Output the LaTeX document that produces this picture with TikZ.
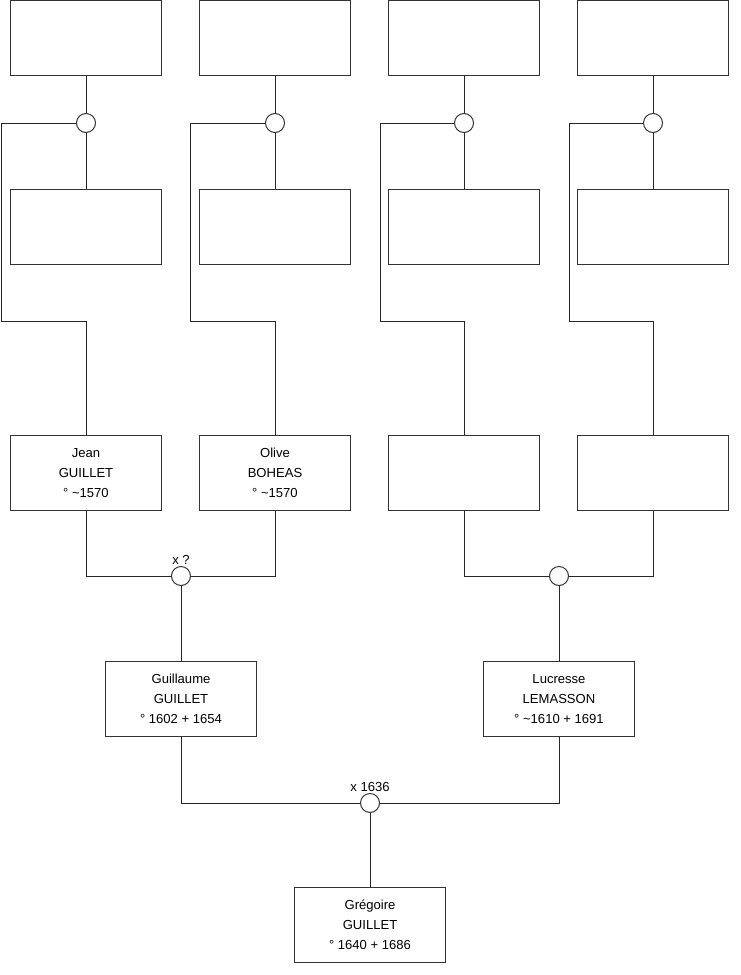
\documentclass[tikz,border=0pt]{standalone}
\usepackage{fontspec}
\setmainfont{Liberation Sans}
\usetikzlibrary{positioning}

\begin{document}
\begin{tikzpicture}[x=0.75pt,y=-0.75pt,
    person/.style={draw=black!80, line width=0.75pt, rectangle, minimum width=113.25pt, minimum height=56.25pt,
      inner sep=0pt, align=center, font=\fontsize{9.8}{15}\selectfont},
    union/.style={draw=black!80, line width=0.75pt, circle, minimum size=14.25pt, inner sep=0pt},
    link/.style={draw=black!85, line width=0.75pt},
    note/.style={inner sep=1pt, font=\fontsize{9.8}{11}\selectfont}]
  \useasboundingbox (0,0) rectangle (740,975);
  % great-grandparents
  \node[person] (f1) at (86,38) {}; \node[person] (f2) at (275,38) {}; \node[person] (f3) at (464,38) {}; \node[person] (f4) at (653,38) {};
  \node[person] (w1) at (86,227) {}; \node[person] (w2) at (275,227) {}; \node[person] (w3) at (464,227) {}; \node[person] (w4) at (653,227) {};
  \node[union] (u1) at (86,123) {}; \node[union] (u2) at (275,123) {}; \node[union] (u3) at (464,123) {}; \node[union] (u4) at (653,123) {};
  % grandparents
  \node[person] (jean) at (86,473) {Jean\\GUILLET\\° \textasciitilde1570};
  \node[person] (olive) at (275,473) {Olive\\BOHEAS\\° \textasciitilde1570};
  \node[person] (g3) at (464,473) {};
  \node[person] (g4) at (653,473) {};
  \node[union] (ua) at (181,576) {}; \node[union] (ub) at (559,576) {};
  \node[note, above=0pt of ua] (uanote) {x ?};
  % parents
  \node[person] (guillaume) at (181,699) {Guillaume\\GUILLET\\° 1602 + 1654};
  \node[person] (lucresse) at (559,699) {Lucresse\\LEMASSON\\° \textasciitilde1610 + 1691};
  \node[union] (uc) at (370,803) {};
  \node[note, above=0pt of uc] (ucnote) {x 1636};
  % child
  \node[person] (gregoire) at (370,925) {Grégoire\\GUILLET\\° 1640 + 1686};

  \draw[link] (f1) -- (u1) -- (w1); \draw[link] (f2) -- (u2) -- (w2);
  \draw[link] (f3) -- (u3) -- (w3); \draw[link] (f4) -- (u4) -- (w4);
  \draw[link] (u1.west) -| (1,321) -| (jean.north);
  \draw[link] (u2.west) -| (190,321) -| (olive.north);
  \draw[link] (u3.west) -| (380,321) -| (g3.north);
  \draw[link] (u4.west) -| (569,321) -| (g4.north);
  \draw[link] (jean.south) |- (ua.west); \draw[link] (olive.south) |- (ua.east);
  \draw[link] (g3.south) |- (ub.west); \draw[link] (g4.south) |- (ub.east);
  \draw[link] (ua) -- (guillaume); \draw[link] (ub) -- (lucresse);
  \draw[link] (guillaume.south) |- (uc.west); \draw[link] (lucresse.south) |- (uc.east);
  \draw[link] (uc) -- (gregoire);
\end{tikzpicture}
\end{document}
